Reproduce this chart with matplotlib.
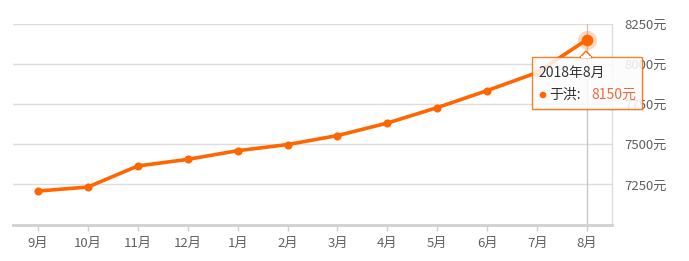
import matplotlib
matplotlib.use("Agg")
import matplotlib.pyplot as plt
from matplotlib.patches import Rectangle, Polygon, Circle
import numpy as np

plt.rcParams['font.family'] = ['Noto Sans CJK SC', 'DejaVu Sans']

months = ['9月', '10月', '11月', '12月', '1月', '2月', '3月', '4月', '5月', '6月', '7月', '8月']
prices = [7208, 7233, 7364, 7405, 7459, 7497, 7553, 7631, 7727, 7833, 7945, 8150]
yticks = [7250, 7500, 7750, 8000, 8250]
ytick_labels = ['7250元', '7500元', '7750元', '8000元', '8250元']
series_name = '于洪'
tooltip_title = '2018年8月'

W, H = 689, 261
fig = plt.figure(figsize=(W / 100, H / 100), dpi=100)
ax = fig.add_axes([13 / W, (H - 224.5) / H, (612 - 13) / W, (224.5 - 23.5) / H])

orange = '#ff6600'
x = np.arange(len(months))
ax.set_xlim(-0.5, len(months) - 0.5)
ax.set_ylim(7000, 8250)

# grid
for yv in yticks:
    ax.axhline(yv, color='#dddddd', lw=1, zorder=1)
# crosshair
ax.axvline(x[-1], color='#c8c8c8', lw=1, zorder=1.5)

ax.plot(x, prices, color=orange, lw=2.6, zorder=3, solid_capstyle='round')
ax.scatter(x[:-1], prices[:-1], s=34, color=orange, zorder=4, linewidths=0)
# highlighted point
ax.scatter([x[-1]], [prices[-1]], s=190, color=orange, alpha=0.25, zorder=4, linewidths=0)
ax.scatter([x[-1]], [prices[-1]], s=70, color=orange, zorder=5, linewidths=0)

for s in ['top', 'left']:
    ax.spines[s].set_visible(False)
ax.spines['right'].set_color('#dddddd')
ax.spines['right'].set_linewidth(1)
ax.spines['bottom'].set_color('#d0d0d0')
ax.spines['bottom'].set_linewidth(2)

ax.set_xticks(x)
ax.set_xticklabels(months)
ax.tick_params(axis='x', length=4, width=1, color='#d0d0d0', labelcolor='#606060',
               labelsize=9.5, pad=5)
ax.yaxis.tick_right()
ax.set_yticks(yticks)
ax.set_yticklabels(ytick_labels)
ax.tick_params(axis='y', length=0, labelcolor='#606060', labelsize=9.5, pad=9)

# tooltip in pixel coordinates
def px(xp, yp):
    return (xp / 100, (H - yp) / 100)

tr = fig.dpi_scale_trans
bx0, by0, bx1, by1 = 532, 57, 642, 109
shadow = Rectangle(px(bx0 + 2, by1 + 2), (bx1 - bx0) / 100, (by1 - by0) / 100, transform=tr,
                   facecolor='#000000', edgecolor='none', alpha=0.06, zorder=9)
fig.add_artist(shadow)
box = Rectangle(px(bx0, by1), (bx1 - bx0) / 100, (by1 - by0) / 100, transform=tr,
                facecolor='white', edgecolor=orange, lw=1, alpha=0.85, zorder=10)
fig.add_artist(box)
tri = Polygon([px(580, by0 + 0.5), px(586, by0 - 6), px(592, by0 + 0.5)], closed=True,
              transform=tr, facecolor='white', edgecolor=orange, lw=1, zorder=11)
fig.add_artist(tri)
fig.add_artist(Rectangle(px(580.8, by0 + 1.2), 10.4 / 100, 2 / 100, transform=tr,
                         facecolor='white', edgecolor='none', zorder=12))

fig.text(*px(538, 73), tooltip_title, transform=tr, fontsize=10, color='#333333',
         va='center', ha='left', zorder=13)
fig.add_artist(Circle(px(543, 95), 2.6 / 100, transform=tr, color=orange, zorder=13))
fig.text(*px(549, 95), series_name + ':', transform=tr, fontsize=10, color='#333333',
         va='center', ha='left', zorder=13)
fig.text(*px(591, 95), f'{prices[-1]}元', transform=tr, fontsize=10, color='#f0683c',
         va='center', ha='left', zorder=13)

fig.savefig('out.png', dpi=100)
